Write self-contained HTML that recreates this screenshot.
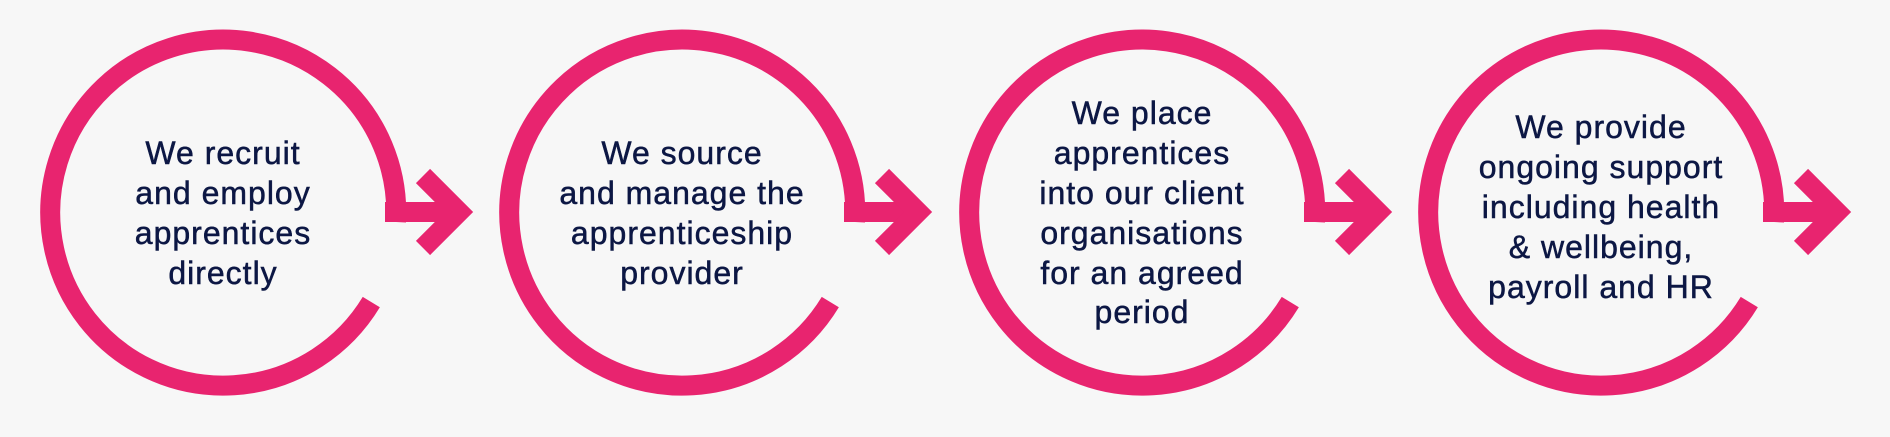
<!DOCTYPE html>
<html><head><meta charset="utf-8"><style>
html,body{margin:0;padding:0;background:#f7f7f7;}
svg{display:block}
text{font-family:"Liberation Sans",sans-serif;font-size:32px;fill:#0c1744;stroke:#0c1744;stroke-width:0.5px;text-anchor:middle;letter-spacing:1px}
</style></head><body>
<svg width="1890" height="437" viewBox="0 0 1890 437">
<rect width="1890" height="437" fill="#f7f7f7"/>
<defs>
<g id="c">
<path d="M148.3 89.1 A173 173 0 1 1 173 9" fill="none" stroke="#e8246f" stroke-width="20"/>
<rect x="162" y="-11" width="78" height="20" fill="#e8246f"/>
<polyline points="200,-37 236,-1 200,35" fill="none" stroke="#e8246f" stroke-width="20" stroke-linejoin="miter" stroke-miterlimit="10"/>
</g>
</defs>
<use href="#c" x="223" y="213"/>
<use href="#c" x="682" y="213"/>
<use href="#c" x="1142" y="213"/>
<use href="#c" x="1601" y="213"/>
<text x="223" y="164">We recruit</text>
<text x="223" y="204">and employ</text>
<text x="223" y="244">apprentices</text>
<text x="223" y="284">directly</text>
<text x="682" y="164">We source</text>
<text x="682" y="204">and manage the</text>
<text x="682" y="244">apprenticeship</text>
<text x="682" y="284">provider</text>
<text x="1142" y="124">We place</text>
<text x="1142" y="164">apprentices</text>
<text x="1142" y="204">into our client</text>
<text x="1142" y="244">organisations</text>
<text x="1142" y="284">for an agreed</text>
<text x="1142" y="323">period</text>
<text x="1601" y="138">We provide</text>
<text x="1601" y="178">ongoing support</text>
<text x="1601" y="218">including health</text>
<text x="1601" y="258">&amp; wellbeing,</text>
<text x="1601" y="298">payroll and HR</text>
</svg>
</body></html>
